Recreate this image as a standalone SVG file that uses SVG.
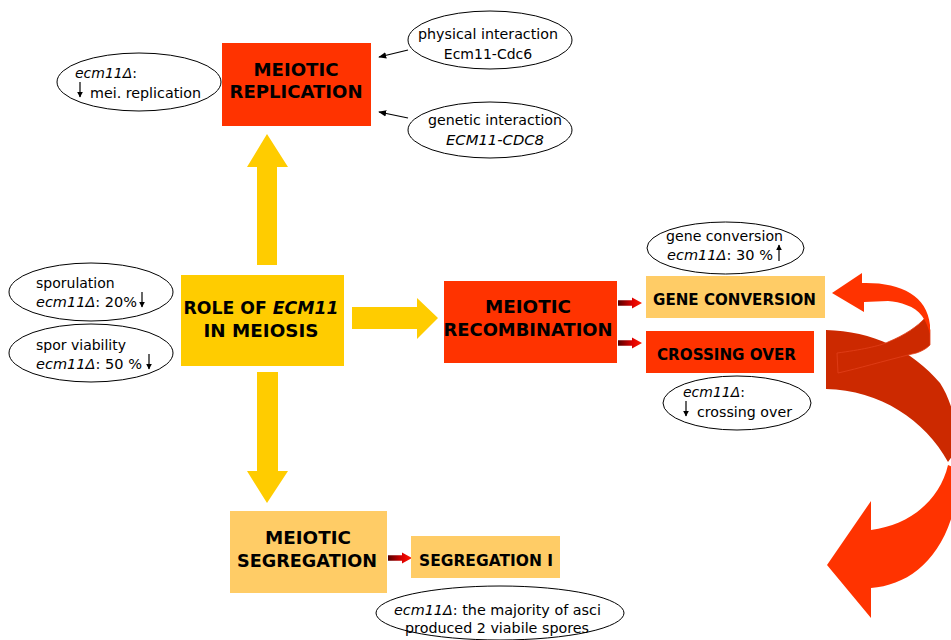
<svg xmlns="http://www.w3.org/2000/svg" width="951" height="640" viewBox="0 0 951 640">
<style>
.bold{font-family:"DejaVu Sans","Liberation Sans",sans-serif;font-weight:bold;font-size:18px;fill:#000}
.bsm{font-family:"DejaVu Sans","Liberation Sans",sans-serif;font-weight:bold;font-size:15px;fill:#000}
.reg{font-family:"DejaVu Sans","Liberation Sans",sans-serif;font-size:14px;fill:#000}
.it{font-style:italic}
.ell{fill:#fff;stroke:#000;stroke-width:1}
.red{fill:#FF3300}
.lt{fill:#FFCC66}
.yel{fill:#FFCC00}
.con{stroke:#000;stroke-width:1.2;fill:none}
.tr{stroke:#000;stroke-width:1.2;fill:none}
</style>
<defs>
<marker id="ah" viewBox="0 0 10 10" refX="9" refY="5" markerWidth="8" markerHeight="8" markerUnits="userSpaceOnUse" orient="auto">
<path d="M0,1 L10,5 L0,9 Z" fill="#000"/>
</marker>
<marker id="sh" viewBox="0 0 10 10" refX="9" refY="5" markerWidth="6" markerHeight="6" markerUnits="userSpaceOnUse" orient="auto">
<path d="M0,0 L10,5 L0,10 Z" fill="#000"/>
</marker>
<linearGradient id="gr" gradientUnits="userSpaceOnUse" x1="0" y1="0" x2="24" y2="0">
<stop offset="0" stop-color="#550000"/>
<stop offset="0.6" stop-color="#dd0000"/>
<stop offset="1" stop-color="#ff1a00"/>
</linearGradient>
<g id="garrow"><path d="M0,-2.8 L14,-2.8 L14,-5.5 L24,0 L14,5.5 L14,2.8 L0,2.8 Z" fill="url(#gr)"/></g>
</defs>
<rect width="951" height="640" fill="#fff"/>

<g id="connectors">
<polygon class="yel" points="257,265 277,265 277,167 288,167 267,134 247,167 257,167"/>
<polygon class="yel" points="352,307 417,307 417,298 438,318 417,339 417,329 352,329"/>
<polygon class="yel" points="257,372 278,372 278,471 288,471 267,503 247,471 257,471"/>
<line class="con" x1="408" y1="50" x2="379" y2="57" marker-end="url(#ah)"/>
<line class="con" x1="408" y1="118" x2="379" y2="112" marker-end="url(#ah)"/>
<use href="#garrow" x="618" y="303"/>
<use href="#garrow" x="618" y="343"/>
<use href="#garrow" x="388" y="558"/>
<g id="cycle-arrow">
<path d="M826,330 C872,331 912,350 940,383 C950,398 956,420 960,445 L948,462 C925,420 880,390 826,389 Z" fill="#CC2900"/>
<path d="M948,465 C940,500 910,525 871,530 L871,501 L827,565 L871,618 L871,588 C915,585 955,550 960,470 Z" fill="#FF3300"/>
<path d="M925,318 L930,330 L930,345 C925,350 918,353 912,354 C880,362 860,368 838,373 L837,353 C860,350 880,346 888,342 C905,335 918,326 925,318 Z" fill="#CC2900" stroke="#E2401A" stroke-width="0.8"/>
<path d="M832,293 L862,273 L862,283 C900,282 927,295 930,325 L930,334 C928,326 925,320 922,316 C915,306 900,302 888,301 C880,301 872,302 864,302 L864,312 Z" fill="#FF3300"/>
</g>
</g>

<g id="meiotic-replication">
<rect class="red" x="222" y="43" width="149" height="83"/>
<text class="bold" x="296" y="76" text-anchor="middle" textLength="85" lengthAdjust="spacingAndGlyphs">MEIOTIC</text>
<text class="bold" x="296" y="98" text-anchor="middle" textLength="133" lengthAdjust="spacingAndGlyphs">REPLICATION</text>
</g>

<g id="note-replication">
<ellipse class="ell" cx="139" cy="82" rx="82" ry="29"/>
<text class="reg" x="75" y="78"><tspan class="it">ecm11Δ</tspan>:</text>
<line class="tr" x1="80" y1="82" x2="80" y2="97" marker-end="url(#sh)"/>
<text class="reg" x="90" y="98" textLength="111" lengthAdjust="spacingAndGlyphs">mei. replication</text>
</g>

<g id="physical-interaction">
<ellipse class="ell" cx="490" cy="40" rx="82" ry="29"/>
<text class="reg" x="418" y="39" textLength="140" lengthAdjust="spacingAndGlyphs">physical interaction</text>
<text class="reg" x="488" y="59" text-anchor="middle">Ecm11-Cdc6</text>
</g>

<g id="genetic-interaction">
<ellipse class="ell" cx="490" cy="130" rx="82" ry="28"/>
<text class="reg" x="428" y="125" textLength="134" lengthAdjust="spacingAndGlyphs">genetic interaction</text>
<text class="reg it" x="495" y="145" text-anchor="middle" textLength="98" lengthAdjust="spacingAndGlyphs">ECM11-CDC8</text>
</g>

<g id="role-ecm11">
<rect class="yel" x="181" y="275" width="163" height="91"/>
<text class="bold" x="261" y="314" text-anchor="middle" textLength="155" lengthAdjust="spacingAndGlyphs">ROLE OF <tspan class="it">ECM11</tspan></text>
<text class="bold" x="261" y="337" text-anchor="middle" textLength="115" lengthAdjust="spacingAndGlyphs">IN MEIOSIS</text>
</g>

<g id="sporulation">
<ellipse class="ell" cx="91" cy="292" rx="82" ry="29"/>
<text class="reg" x="36" y="288">sporulation</text>
<text class="reg" x="36" y="307" textLength="101" lengthAdjust="spacingAndGlyphs"><tspan class="it">ecm11Δ</tspan>: 20%</text>
<line class="tr" x1="142" y1="292" x2="142" y2="307" marker-end="url(#sh)"/>
</g>

<g id="spore-viability">
<ellipse class="ell" cx="91" cy="353" rx="82" ry="29"/>
<text class="reg" x="36" y="350">spor viability</text>
<text class="reg" x="36" y="369" textLength="106" lengthAdjust="spacingAndGlyphs"><tspan class="it">ecm11Δ</tspan>: 50 %</text>
<line class="tr" x1="149" y1="354" x2="149" y2="369" marker-end="url(#sh)"/>
</g>

<g id="meiotic-recombination">
<rect class="red" x="444" y="281" width="173" height="82"/>
<text class="bold" x="528" y="313" text-anchor="middle" textLength="86" lengthAdjust="spacingAndGlyphs">MEIOTIC</text>
<text class="bold" x="528" y="336" text-anchor="middle" textLength="169" lengthAdjust="spacingAndGlyphs">RECOMBINATION</text>
</g>

<g id="gene-conversion">
<rect class="lt" x="646" y="276" width="179" height="42"/>
<text class="bsm" x="653" y="305" textLength="163" lengthAdjust="spacingAndGlyphs">GENE CONVERSION</text>
</g>

<g id="note-gene-conversion">
<ellipse class="ell" cx="725.5" cy="248" rx="78.5" ry="26"/>
<text class="reg" x="666" y="241" textLength="117" lengthAdjust="spacingAndGlyphs">gene conversion</text>
<text class="reg" x="667" y="260" textLength="106" lengthAdjust="spacingAndGlyphs"><tspan class="it">ecm11Δ</tspan>: 30 %</text>
<line class="tr" x1="779" y1="261" x2="779" y2="245" marker-end="url(#sh)"/>
</g>

<g id="crossing-over">
<rect class="red" x="646" y="331" width="168" height="42"/>
<text class="bsm" x="657" y="360" textLength="139" lengthAdjust="spacingAndGlyphs">CROSSING OVER</text>
</g>

<g id="note-crossing-over">
<ellipse class="ell" cx="737" cy="403" rx="74" ry="27"/>
<text class="reg" x="683" y="397"><tspan class="it">ecm11Δ</tspan>:</text>
<line class="tr" x1="686" y1="401" x2="686" y2="416" marker-end="url(#sh)"/>
<text class="reg" x="697" y="417" textLength="95" lengthAdjust="spacingAndGlyphs">crossing over</text>
</g>

<g id="meiotic-segregation">
<rect class="lt" x="230" y="511" width="157" height="82"/>
<text class="bold" x="308" y="544" text-anchor="middle" textLength="86" lengthAdjust="spacingAndGlyphs">MEIOTIC</text>
<text class="bold" x="307" y="567" text-anchor="middle" textLength="140" lengthAdjust="spacingAndGlyphs">SEGREGATION</text>
</g>

<g id="segregation-i">
<rect class="lt" x="411" y="536" width="149" height="42"/>
<text class="bsm" x="419" y="566" textLength="134" lengthAdjust="spacingAndGlyphs">SEGREGATION I</text>
</g>

<g id="note-segregation">
<ellipse class="ell" cx="500" cy="613" rx="124" ry="27"/>
<text class="reg" x="394" y="615" textLength="207" lengthAdjust="spacingAndGlyphs"><tspan class="it">ecm11Δ</tspan>: the majority of asci</text>
<text class="reg" x="405" y="633" textLength="184" lengthAdjust="spacingAndGlyphs">produced 2 viabile spores</text>
</g>
</svg>
